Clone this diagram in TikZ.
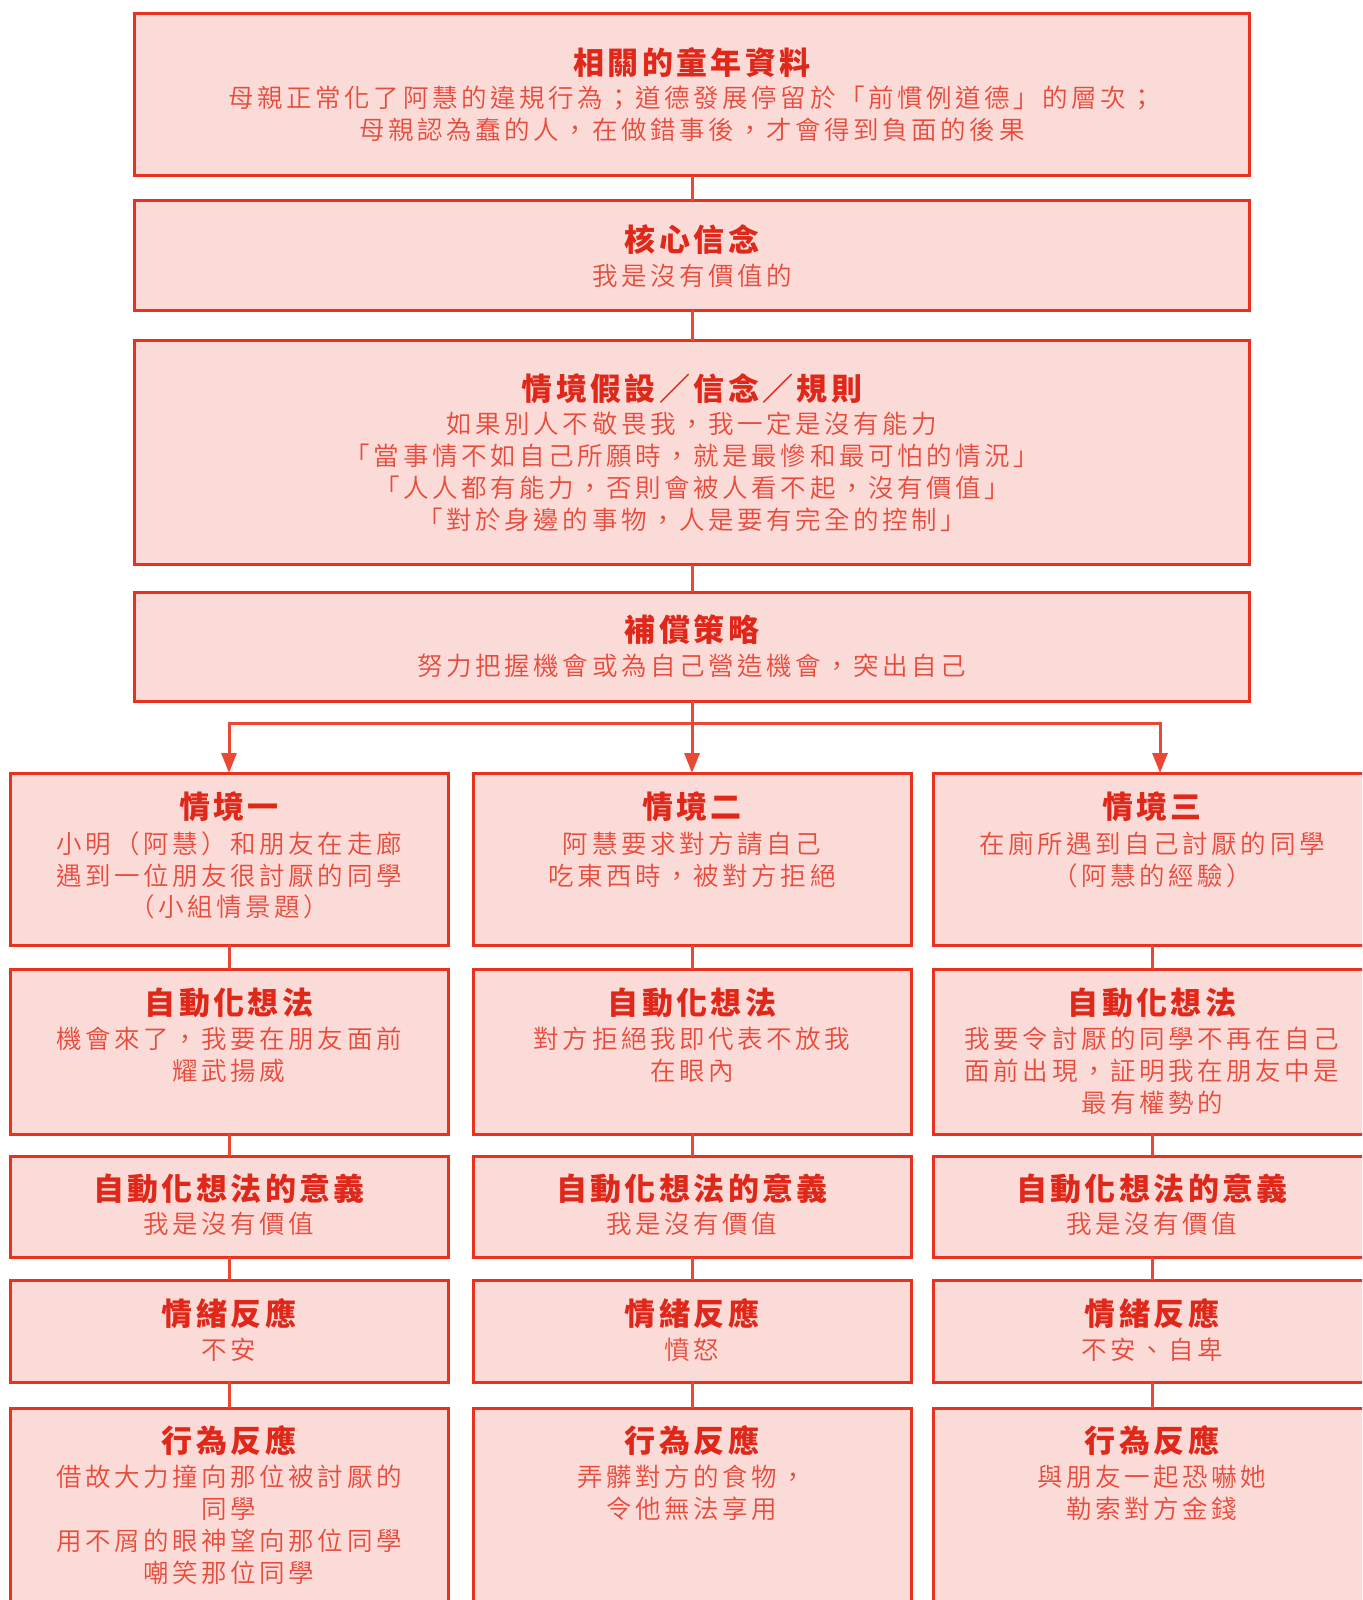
\documentclass[tikz,border=0pt]{standalone}
\usepackage{fontspec}
\usetikzlibrary{arrows.meta}
\IfFontExistsTF{Noto Sans CJK TC DemiLight}
  {\newfontfamily\cjkbody[LetterSpace=14]{Noto Sans CJK TC DemiLight}}
  {\IfFontExistsTF{Noto Sans CJK TC Light}
    {\newfontfamily\cjkbody[LetterSpace=14]{Noto Sans CJK TC Light}}
    {\newfontfamily\cjkbody[LetterSpace=14]{Noto Sans CJK TC}}}
\newfontfamily\cjktitle[LetterSpace=11]{Noto Sans CJK TC}
\definecolor{boxfill}{HTML}{FADBD8}
\definecolor{boxline}{HTML}{E8321F}
\definecolor{titlecol}{HTML}{E0281A}
\definecolor{bodycol}{HTML}{E84B3B}
\definecolor{conncol}{HTML}{EA4835}
\tikzset{
  box/.style={draw=boxline, fill=boxfill, line width=3pt, rectangle, outer sep=0pt, inner sep=0pt},
  ttl/.style={anchor=base, inner sep=0pt, text=titlecol, font=\cjktitle\bfseries\fontsize{31}{36}\selectfont},
  bdy/.style={anchor=base, inner sep=0pt, align=center, text=bodycol, font=\cjkbody\fontsize{25.5}{31.8}\selectfont},
  conn/.style={draw=conncol, line width=3pt},
  arr/.style={conn, -{Triangle[length=20pt,width=15pt]}}
}
\begin{document}
\begin{tikzpicture}[x=1pt,y=-1pt]
\useasboundingbox (0,0) rectangle (1362,1600);
\clip (0,0) rectangle (1362,1600);
% main boxes
\node[box, minimum width=1115pt, minimum height=162pt, anchor=north] (b1) at (692,13.5) {};
\node[box, minimum width=1115pt, minimum height=109.5pt, anchor=north] (b2) at (692,200.5) {};
\node[box, minimum width=1115pt, minimum height=224pt, anchor=north] (b3) at (692,340.5) {};
\node[box, minimum width=1115pt, minimum height=109pt, anchor=north] (b4) at (692,592) {};
% column boxes
\foreach \c/\x in {1/229,2/692,3/1152}{
  \node[box, minimum width=438pt, minimum height=172pt, anchor=north] (c\c1) at (\x,773) {};
  \node[box, minimum width=438pt, minimum height=165pt, anchor=north] (c\c2) at (\x,969) {};
  \node[box, minimum width=438pt, minimum height=101pt, anchor=north] (c\c3) at (\x,1156) {};
  \node[box, minimum width=438pt, minimum height=102pt, anchor=north] (c\c4) at (\x,1280) {};
  \node[box, minimum width=438pt, minimum height=230pt, anchor=north] (c\c5) at (\x,1408) {};
}
% main texts (multi-line body nodes are placed at the baseline of their last line)
\node[ttl] (t1) at (692,74.7) {相關的童年資料};
\node[bdy] (d1) at (692,139.6) {母親正常化了阿慧的違規行為；道德發展停留於「前慣例道德」的層次；\\母親認為蠢的人，在做錯事後，才會得到負面的後果};
\node[ttl] (t2) at (692,251.1) {核心信念};
\node[bdy] (d2) at (692,285) {我是沒有價值的};
\node[ttl] (t3) at (692,400.1) {情境假設／信念／規則};
\node[bdy] (d3) at (692,529.3) {如果別人不敬畏我，我一定是沒有能力\\「當事情不如自己所願時，就是最慘和最可怕的情況」\\「人人都有能力，否則會被人看不起，沒有價值」\\「對於身邊的事物，人是要有完全的控制」};
\node[ttl] (t4) at (692,641.9) {補償策略};
\node[bdy] (d4) at (692,675.7) {努力把握機會或為自己營造機會，突出自己};
% column 1
\node[ttl] (t11) at (229,818.4) {情境一};
\node[bdy] (d11) at (229,916.8) {小明（阿慧）和朋友在走廊\\遇到一位朋友很討厭的同學\\（小組情景題）};
\node[ttl] (t12) at (229,1014.4) {自動化想法};
\node[bdy] (d12) at (229,1080.3) {機會來了，我要在朋友面前\\耀武揚威};
\node[ttl] (t13) at (229,1200.9) {自動化想法的意義};
\node[bdy] (d13) at (229,1233.7) {我是沒有價值};
\node[ttl] (t14) at (229,1325.4) {情緒反應};
\node[bdy] (d14) at (229,1359.2) {不安};
\node[ttl] (t15) at (229,1452.9) {行為反應};
\node[bdy] (d15) at (229,1582.2) {借故大力撞向那位被討厭的\\同學\\用不屑的眼神望向那位同學\\嘲笑那位同學};
% column 2
\node[ttl] (t21) at (692,818.4) {情境二};
\node[bdy] (d21) at (692,885) {阿慧要求對方請自己\\吃東西時，被對方拒絕};
\node[ttl] (t22) at (692,1014.4) {自動化想法};
\node[bdy] (d22) at (692,1080.3) {對方拒絕我即代表不放我\\在眼內};
\node[ttl] (t23) at (692,1200.9) {自動化想法的意義};
\node[bdy] (d23) at (692,1233.7) {我是沒有價值};
\node[ttl] (t24) at (692,1325.4) {情緒反應};
\node[bdy] (d24) at (692,1359.2) {憤怒};
\node[ttl] (t25) at (692,1452.9) {行為反應};
\node[bdy] (d25) at (692,1518.6) {弄髒對方的食物，\\令他無法享用};
% column 3
\node[ttl] (t31) at (1152,818.4) {情境三};
\node[bdy] (d31) at (1152,885) {在廁所遇到自己討厭的同學\\（阿慧的經驗）};
\node[ttl] (t32) at (1152,1014.4) {自動化想法};
\node[bdy] (d32) at (1152,1112.1) {我要令討厭的同學不再在自己\\面前出現，証明我在朋友中是\\最有權勢的};
\node[ttl] (t33) at (1152,1200.9) {自動化想法的意義};
\node[bdy] (d33) at (1152,1233.7) {我是沒有價值};
\node[ttl] (t34) at (1152,1325.4) {情緒反應};
\node[bdy] (d34) at (1152,1359.2) {不安、自卑};
\node[ttl] (t35) at (1152,1452.9) {行為反應};
\node[bdy] (d35) at (1152,1518.6) {與朋友一起恐嚇她\\勒索對方金錢};
% connectors
\draw[conn] (b1.south) -- (b2.north);
\draw[conn] (b2.south) -- (b3.north);
\draw[conn] (b3.south) -- (b4.north);
\coordinate (split) at (692,723);
\coordinate (c3in) at (1160,773);
\draw[conn] (b4.south) -- (split);
\draw[arr] (split) -| (c11.north);
\draw[arr] (split) -- (c21.north);
\draw[arr] (split) -| (c3in);
\foreach \c in {1,2,3}{
  \draw[conn] (c\c1.south) -- (c\c2.north);
  \draw[conn] (c\c2.south) -- (c\c3.north);
  \draw[conn] (c\c3.south) -- (c\c4.north);
  \draw[conn] (c\c4.south) -- (c\c5.north);
}
\end{tikzpicture}
\end{document}
